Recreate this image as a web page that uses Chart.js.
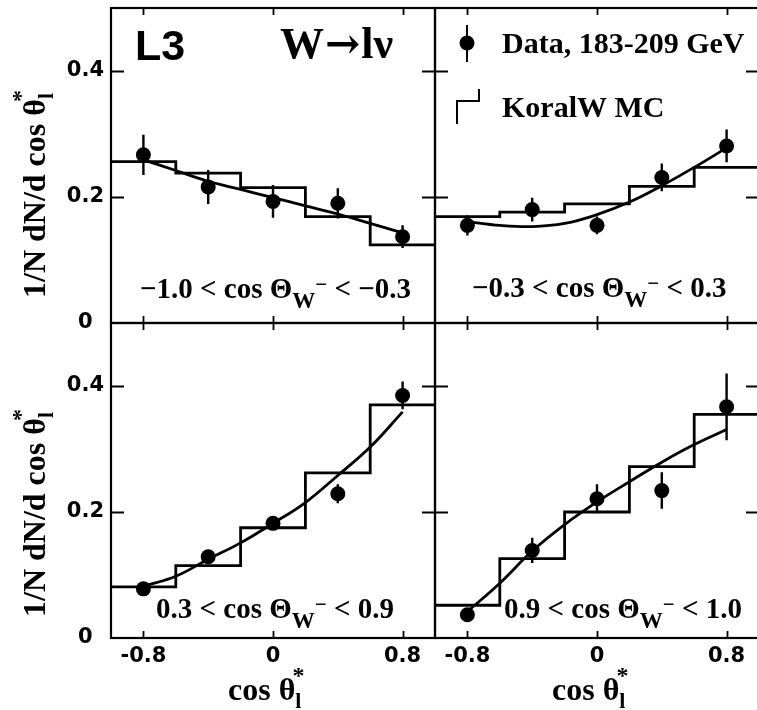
<!DOCTYPE html>
<html>
<head>
<meta charset="utf-8">
<script src="https://cdn.jsdelivr.net/npm/chart.js@4/dist/chart.umd.min.js"></script>
<style>
  html, body { margin: 0; padding: 0; background: #fff; overflow: hidden; }
  #wrap { position: relative; width: 757px; height: 710px; overflow: hidden; background: #fff; }
  #wrap canvas { position: absolute; }
</style>
</head>
<body>
<div id="wrap">
  <canvas id="pTL"></canvas>
  <canvas id="pTR"></canvas>
  <canvas id="pBL"></canvas>
  <canvas id="pBR"></canvas>
</div>
<script>
// cos theta_l* binning shared by all four cos Theta_W ranges
const binEdges = [-1.0, -0.6, -0.2, 0.2, 0.6, 1.0];
const dataX = [-0.8, -0.4, 0.0, 0.4, 0.8];
const fitX = [-0.8, -0.6, -0.4, -0.2, 0.0, 0.2, 0.4, 0.6, 0.8];
const xTickLabels = ['-0.8', '0', '0.8'];
const yTickLabels = ['0', '0.2', '0.4'];

// -1.0 < cos Theta_W < -0.3
const data1 = [0.267, 0.216, 0.193, 0.190, 0.137];
const err1  = [0.032, 0.027, 0.026, 0.024, 0.018];
const mc1   = [0.256, 0.238, 0.215, 0.169, 0.124];
const fit1  = [0.259, 0.242, 0.225, 0.212, 0.199, 0.186, 0.173, 0.158, 0.143];

// -0.3 < cos Theta_W < 0.3
const data2 = [0.155, 0.180, 0.155, 0.231, 0.281];
const err2  = [0.016, 0.019, 0.014, 0.022, 0.026];
const mc2   = [0.169, 0.176, 0.189, 0.217, 0.247];
const fit2  = [0.161, 0.155, 0.153, 0.158, 0.172, 0.192, 0.218, 0.247, 0.278];

// 0.3 < cos Theta_W < 0.9
const data3 = [0.078, 0.129, 0.182, 0.229, 0.385];
const err3  = [0.008, 0.010, 0.010, 0.015, 0.022];
const mc3   = [0.081, 0.115, 0.175, 0.262, 0.370];
const fit3  = [0.082, 0.098, 0.125, 0.151, 0.182, 0.215, 0.258, 0.303, 0.359];

// 0.9 < cos Theta_W < 1.0
const data4 = [0.037, 0.139, 0.221, 0.234, 0.367];
const err4  = [0.008, 0.020, 0.023, 0.029, 0.053];
const mc4   = [0.052, 0.126, 0.200, 0.272, 0.355];
const fit4  = [0.042, 0.087, 0.138, 0.180, 0.216, 0.248, 0.279, 0.307, 0.331];

const SERIF = '"Liberation Serif", "Times New Roman", serif';
const SANS  = '"DejaVu Sans", sans-serif';

// text with sub/superscripts, optionally rotated
function drawRich(ctx, x, y, parts, angle) {
  ctx.save();
  ctx.translate(x, y);
  if (angle) ctx.rotate(angle);
  ctx.fillStyle = '#000';
  ctx.textBaseline = 'alphabetic';
  ctx.textAlign = 'left';
  let cx = 0, prevStart = 0, prevW = 0;
  parts.forEach(p => {
    ctx.font = 'bold ' + p.size + 'px ' + (p.family || SERIF);
    const w = ctx.measureText(p.t).width;
    if (p.over) {
      ctx.fillText(p.t, prevStart + (prevW - w) / 2 + (p.dx || 0), p.dy || 0);
      return;
    }
    ctx.fillText(p.t, cx + (p.dx || 0), p.dy || 0);
    prevStart = cx + (p.dx || 0);
    prevW = w;
    cx += w + (p.dx || 0);
  });
  ctx.restore();
}

// frame with inward ticks on all four sides
const frameTicks = {
  id: 'frameTicks',
  afterDraw(chart) {
    const { ctx, chartArea: a, scales: { x, y } } = chart;
    ctx.save();
    ctx.strokeStyle = '#000';
    ctx.lineWidth = 1.8;
    ctx.beginPath();
    x.ticks.forEach(t => {
      if (t.value <= x.min + 1e-6 || t.value >= x.max - 1e-6) return;
      const px = Math.round(x.getPixelForValue(t.value)) + 0.5;
      ctx.moveTo(px, a.bottom); ctx.lineTo(px, a.bottom - 7);
      ctx.moveTo(px, a.top); ctx.lineTo(px, a.top + 7);
    });
    y.ticks.forEach(t => {
      if (t.value <= y.min + 1e-6 || t.value >= y.max - 1e-6) return;
      const py = Math.round(y.getPixelForValue(t.value)) + 0.5;
      ctx.moveTo(a.left, py); ctx.lineTo(a.left + 13, py);
      ctx.moveTo(a.right, py); ctx.lineTo(a.right - 13, py);
    });
    ctx.stroke();
    ctx.lineWidth = 2.2;
    ctx.strokeRect(a.left, a.top, a.right - a.left, a.bottom - a.top);
    ctx.restore();
  }
};

// vertical error bars on the data points
const errorBars = {
  id: 'errorBars',
  afterDatasetsDraw(chart) {
    const { ctx, scales: { x, y } } = chart;
    chart.data.datasets.forEach(ds => {
      if (!ds.errors) return;
      ctx.save();
      ctx.strokeStyle = '#000';
      ctx.lineWidth = 2.4;
      ctx.beginPath();
      ds.data.forEach((p, i) => {
        const px = x.getPixelForValue(p.x);
        ctx.moveTo(px, y.getPixelForValue(p.y + ds.errors[i]));
        ctx.lineTo(px, y.getPixelForValue(p.y - ds.errors[i]));
      });
      ctx.stroke();
      ctx.restore();
    });
  }
};

function makePanel(id, cfg) {
  const cv = document.getElementById(id);
  cv.width = cfg.w; cv.height = cfg.h;
  cv.style.left = cfg.left + 'px'; cv.style.top = cfg.top + 'px';
  cv.style.width = cfg.w + 'px'; cv.style.height = cfg.h + 'px';

  const histPts = binEdges.map((e, i) => ({ x: e, y: cfg.mc[Math.min(i, cfg.mc.length - 1)] }));
  const fitPts = fitX.map((x, i) => ({ x: x, y: cfg.fit[i] }));
  const dataPts = dataX.map((x, i) => ({ x: x, y: cfg.data[i] }));

  return new Chart(cv, {
    type: 'scatter',
    data: {
      datasets: [
        {
          type: 'scatter', label: 'Data, 183-209 GeV', data: dataPts, errors: cfg.err,
          pointRadius: 7.5, pointHoverRadius: 7.5, pointBackgroundColor: '#000',
          pointBorderColor: '#000', pointBorderWidth: 0
        },
        {
          type: 'line', label: 'fit', data: fitPts, borderColor: '#000', borderWidth: 2.8,
          pointRadius: 0, fill: false, tension: 0.4
        },
        {
          type: 'line', label: 'KoralW MC', data: histPts, borderColor: '#000', borderWidth: 2.8,
          pointRadius: 0, fill: false, stepped: 'before'
        }
      ]
    },
    options: {
      responsive: false,
      animation: false,
      devicePixelRatio: 1,
      events: [],
      layout: { padding: cfg.pad, autoPadding: false },
      plugins: { legend: { display: false }, tooltip: { enabled: false } },
      scales: {
        x: {
          type: 'linear', min: -1, max: 1, position: 'bottom',
          grid: { display: false, drawTicks: false },
          border: { display: false },
          ticks: {
            display: cfg.xLabels, stepSize: 0.2, autoSkip: false, maxRotation: 0, padding: 6,
            color: '#000', font: { family: SANS, weight: 'bold', size: 21 },
            callback: v => { const s = String(Math.round(v * 10) / 10); return xTickLabels.includes(s) ? s : null; }
          },
          afterFit: s => { s.height = cfg.xH; s.paddingLeft = 0; s.paddingRight = 0; }
        },
        y: {
          type: 'linear', min: 0, max: 0.5, position: 'left',
          grid: { display: false, drawTicks: false },
          border: { display: false },
          ticks: {
            display: cfg.yLabels, stepSize: 0.1, autoSkip: false, crossAlign: 'center', padding: 7,
            color: '#000', font: { family: SANS, weight: 'bold', size: 21 },
            callback: v => { const s = String(Math.round(v * 10) / 10); return yTickLabels.includes(s) ? s : null; }
          },
          afterFit: s => { s.width = cfg.yW; s.paddingTop = 0; s.paddingBottom = 0; }
        }
      }
    },
    plugins: [errorBars, frameTicks, { id: 'annot', afterDraw: c => cfg.annot(c.ctx) }]
  });
}

const yTitle = [
  { t: '1/N dN/d cos \u03B8', size: 32 },
  { t: 'l', size: 22, dy: 8 },
  { t: '*', size: 24, dy: -17, over: true }
];
const xTitle = [
  { t: 'cos \u03B8', size: 32 },
  { t: 'l', size: 22, dy: 8 },
  { t: '*', size: 24, dy: -17, over: true }
];
function rangeLabel(lo, hi) {
  return [
    { t: lo + ' < cos \u0398', size: 29 },
    { t: 'W', size: 23, dy: 10 },
    { t: '\u2212', size: 21, dy: -7 },
    { t: ' < ' + hi, size: 29 }
  ];
}

makePanel('pTL', {
  left: 0, top: 0, w: 440, h: 345, pad: { left: 0, top: 8, right: 5, bottom: 0 },
  yW: 111, xH: 22, xLabels: false, yLabels: true,
  data: data1, err: err1, mc: mc1, fit: fit1,
  annot: ctx => {
    drawRich(ctx, 135, 60, [{ t: 'L3', size: 43, family: '"Liberation Sans", Arial, sans-serif' }]);
    drawRich(ctx, 280, 58, [
      { t: 'W', size: 44 },
      { t: '\u2192', size: 42, family: '"DejaVu Serif", serif', dx: 1 },
      { t: 'l\u03BD', size: 44, dx: 1 }
    ]);
    drawRich(ctx, 140, 298, rangeLabel('\u22121.0', '\u22120.3'));
    drawRich(ctx, 45, 298, yTitle, -Math.PI / 2);
  }
});

makePanel('pTR', {
  left: 430, top: 0, w: 330, h: 345, pad: { left: 5, top: 8, right: 1, bottom: 0 },
  yW: 0, xH: 22, xLabels: false, yLabels: false,
  data: data2, err: err2, mc: mc2, fit: fit2,
  annot: ctx => {
    // legend
    ctx.save();
    ctx.fillStyle = '#000'; ctx.strokeStyle = '#000'; ctx.lineWidth = 2;
    ctx.beginPath(); ctx.arc(37, 43, 7.5, 0, Math.PI * 2); ctx.fill();
    ctx.beginPath(); ctx.moveTo(37, 25); ctx.lineTo(37, 62); ctx.stroke();
    ctx.beginPath();
    ctx.moveTo(49, 89); ctx.lineTo(49, 101); ctx.lineTo(27, 101); ctx.lineTo(27, 124);
    ctx.stroke();
    ctx.restore();
    drawRich(ctx, 72, 53, [{ t: 'Data, 183-209 GeV', size: 30 }]);
    drawRich(ctx, 72, 117, [{ t: 'KoralW MC', size: 30 }]);
    drawRich(ctx, 42, 297, rangeLabel('\u22120.3', '0.3'));
  }
});

makePanel('pBL', {
  left: 0, top: 313, w: 440, h: 397, pad: { left: 0, top: 10, right: 5, bottom: 0 },
  yW: 111, xH: 72, xLabels: true, yLabels: true,
  data: data3, err: err3, mc: mc3, fit: fit3,
  annot: ctx => {
    drawRich(ctx, 156, 305, rangeLabel('0.3', '0.9'));
    drawRich(ctx, 45, 304, yTitle, -Math.PI / 2);
    drawRich(ctx, 228, 387, xTitle);
  }
});

makePanel('pBR', {
  left: 430, top: 313, w: 330, h: 397, pad: { left: 5, top: 10, right: 1, bottom: 0 },
  yW: 0, xH: 72, xLabels: true, yLabels: false,
  data: data4, err: err4, mc: mc4, fit: fit4,
  annot: ctx => {
    drawRich(ctx, 74, 305, rangeLabel('0.9', '1.0'));
    drawRich(ctx, 122, 387, xTitle);
  }
});
</script>
</body>
</html>
